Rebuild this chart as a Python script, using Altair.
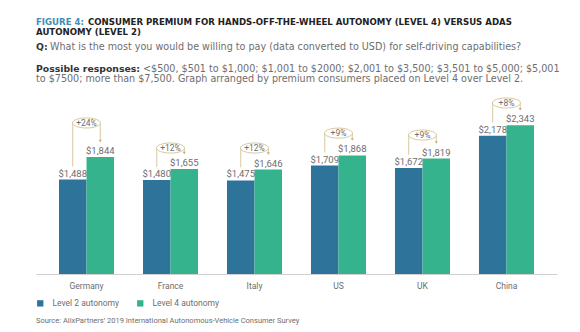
import altair as alt
import pandas as pd

countries = ["Germany", "France", "Italy", "US", "UK", "China"]
level2 = [1488, 1480, 1475, 1709, 1672, 2178]
level4 = [1844, 1655, 1646, 1868, 1819, 2343]
premium = ["+24%", "+12%", "+12%", "+9%", "+9%", "+8%"]
bracket = [2380, 1985, 1985, 2220, 2190, 2695]
series = ["Level 2 autonomy", "Level 4 autonomy"]

title_tag = "FIGURE 4:"
title_l1 = "CONSUMER PREMIUM FOR HANDS-OFF-THE-WHEEL AUTONOMY (LEVEL 4) VERSUS ADAS"
title_l2 = "AUTONOMY (LEVEL 2)"
q_tag = "Q:"
q_text = "What is the most you would be willing to pay (data converted to USD) for self-driving capabilities?"
r_tag = "Possible responses:"
r_text1 = "<$500, $501 to $1,000; $1,001 to $2000; $2,001 to $3,500; $3,501 to $5,000; $5,001"
r_text2 = "to $7500; more than $7,500. Graph arranged by premium consumers placed on Level 4 over Level 2."
source = "Source: AlixPartners\u2019 2019 International Autonomous-Vehicle Consumer Survey"

C2, C4 = "#2e7399", "#34b38d"
TAN = "#d8c8a0"
GRAY = "#6e6e6e"

long_rows = []
for c, a, b in zip(countries, level2, level4):
    long_rows.append({"country": c, "level": series[0], "value": a})
    long_rows.append({"country": c, "level": series[1], "value": b})
bars_df = pd.DataFrame(long_rows)

ann_df = pd.DataFrame({
    "country": countries, "l2": level2, "l4": level4, "pct": premium, "ann": bracket,
    "lv2": [series[0]] * 6, "lv4": [series[1]] * 6,
})

xs = alt.X("country:N", sort=countries,
           scale=alt.Scale(paddingInner=0.345, paddingOuter=0.274),
           axis=alt.Axis(title=None, ticks=False, labelAngle=0, domainColor="#d0d0d0",
                         labelColor=GRAY, labelFont="Roboto", labelFontSize=8.5,
                         labelPadding=7))
xo = alt.XOffset("level:N", scale=alt.Scale(domain=series, paddingInner=0, paddingOuter=0))
ys = alt.Y("value:Q", scale=alt.Scale(domain=[0, 2600], nice=False), axis=None)

bars = alt.Chart(bars_df).mark_bar().encode(
    x=xs, xOffset=xo, y=ys,
    color=alt.Color("level:N", scale=alt.Scale(domain=series, range=[C2, C4]),
                    legend=alt.Legend(title=None, orient="none", legendX=0, legendY=190,
                                      direction="horizontal", symbolType="square",
                                      symbolSize=40, symbolStrokeWidth=0,
                                      labelFont="Roboto", labelFontSize=8.5,
                                      labelColor=GRAY, columnPadding=16, labelOffset=8)),
)
labels = alt.Chart(bars_df).mark_text(baseline="bottom", dy=-1, font="Roboto",
                                      fontSize=9.5, color=GRAY).encode(
    x=xs, xOffset=xo, y=ys, text=alt.Text("value:Q", format="$,d"))

ann_x_off2 = alt.XOffset("lv2:N", scale=alt.Scale(domain=series))
ann_x_off4 = alt.XOffset("lv4:N", scale=alt.Scale(domain=series))
left_rule = alt.Chart(ann_df).mark_rule(color=TAN, strokeWidth=1, yOffset=-13).encode(
    x=xs, xOffset=ann_x_off2, y=alt.Y("l2:Q"), y2="ann:Q")
right_rule = alt.Chart(ann_df).mark_rule(color=TAN, strokeWidth=1, y2Offset=-17).encode(
    x=xs, xOffset=ann_x_off4, y=alt.Y("ann:Q"), y2="l4:Q")
arrow = alt.Chart(ann_df).mark_point(shape="triangle-down", filled=True, color="#c9a86a",
                                     size=9, yOffset=-16, opacity=1).encode(
    x=xs, xOffset=ann_x_off4, y=alt.Y("l4:Q"))
ellipse_path = "M -1 0 A 1 0.36 0 1 0 1 0 A 1 0.36 0 1 0 -1 0 Z"
ellipse = alt.Chart(ann_df).mark_point(shape=ellipse_path, filled=False, fill="white",
                                       fillOpacity=1, stroke=TAN, strokeWidth=1,
                                       size=784, opacity=1).encode(
    x=xs, y=alt.Y("ann:Q"))
pct = alt.Chart(ann_df).mark_text(font="Roboto", fontSize=8.5, color=GRAY,
                                  baseline="middle").encode(
    x=xs, y=alt.Y("ann:Q"), text="pct:N")


def txt(s, x, y, color, size, weight="normal", font="DejaVu Sans"):
    return alt.Chart(pd.DataFrame({"t": [s]})).mark_text(
        align="left", baseline="middle", font=font, fontSize=size, fontWeight=weight,
        color=color).encode(text="t:N", x=alt.value(x), y=alt.value(y))


header = [
    txt(title_tag, 0, -87.3, "#3f8fb8", 8.6, "bold"),
    txt(title_l1, 52, -87.3, "#222222", 8.6, "bold"),
    txt(title_l2, 0, -77.3, "#222222", 8.6, "bold"),
    txt(q_tag, 0, -62.3, "#333333", 9.3, "bold"),
    txt(q_text, 14, -62.3, GRAY, 9.6),
    txt(r_tag, 0, -39.7, "#333333", 9.3, "bold"),
    txt(r_text1, 107, -39.7, GRAY, 9.6),
    txt(r_text2, 0, -29.7, GRAY, 9.6),
    txt(source, 0, 212, GRAY, 7.5, font="Roboto"),
]

chart = alt.layer(bars, labels, left_rule, right_rule, arrow, ellipse, pct, *header).properties(
    width=521, height=165, autosize=alt.AutoSizeParams(type="none"),
    padding={"left": 36, "top": 109, "right": 23, "bottom": 58},
    background="white",
).configure_view(stroke=None)

chart.save("out.html", embed_options={"renderer": "svg", "actions": False})
